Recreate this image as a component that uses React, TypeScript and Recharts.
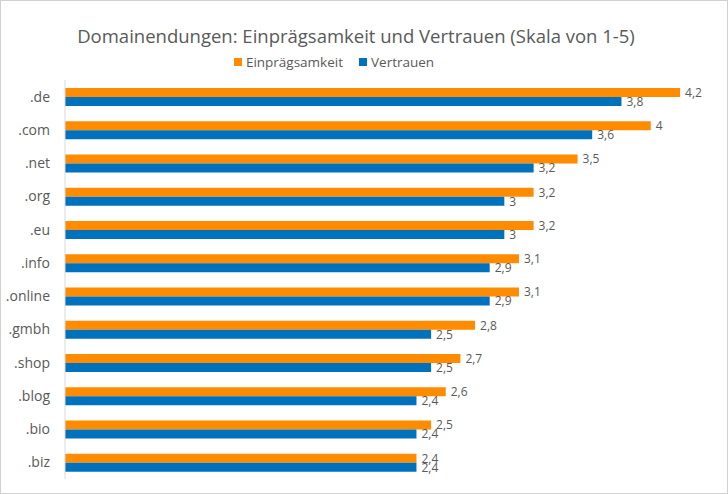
import { Bar, BarChart, LabelList, XAxis, YAxis } from 'recharts'

const domains = ['.de', '.com', '.net', '.org', '.eu', '.info', '.online', '.gmbh', '.shop', '.blog', '.bio', '.biz']
const einpraegsamkeit = [4.2, 4, 3.5, 3.2, 3.2, 3.1, 3.1, 2.8, 2.7, 2.6, 2.5, 2.4]
const vertrauen = [3.8, 3.6, 3.2, 3, 3, 2.9, 2.9, 2.5, 2.5, 2.4, 2.4, 2.4]

const palette = {
  orange: '#ff8c00',
  blue: '#0071bc',
  text: '#595959',
  axis: '#d9d9d9',
  frame: '#d0d0d0',
}

const font = '"Open Sans", sans-serif'

const chartData = domains.map((domain, i) => ({
  domain,
  einpraegsamkeit: einpraegsamkeit[i],
  vertrauen: vertrauen[i],
}))

const formatValue = (value: unknown) => String(value).replace('.', ',')

export default function App() {
  return (
    <>
      <style>{'body { margin: 0; }'}</style>
      <div
        style={{
          position: 'relative',
          width: 728,
          height: 494,
          boxSizing: 'border-box',
          border: `1px solid ${palette.frame}`,
          background: '#fff',
          fontFamily: font,
          overflow: 'hidden',
        }}
      >
        <div
          style={{
            position: 'absolute',
            top: 22,
            left: 0,
            width: 710,
            textAlign: 'center',
            fontSize: 18.5,
            color: palette.text,
          }}
        >
          Domainendungen: Einprägsamkeit und Vertrauen (Skala von 1-5)
        </div>
        <div
          style={{
            position: 'absolute',
            top: 52,
            left: 0,
            width: 666,
            display: 'flex',
            justifyContent: 'center',
            gap: 16,
            fontSize: 13.5,
            color: palette.text,
          }}
        >
          {[
            { name: 'Einprägsamkeit', color: palette.orange },
            { name: 'Vertrauen', color: palette.blue },
          ].map((item) => (
            <span key={item.name} style={{ display: 'flex', alignItems: 'center', gap: 4 }}>
              <span style={{ width: 8, height: 8, background: item.color, display: 'inline-block' }} />
              {item.name}
            </span>
          ))}
        </div>
        <div style={{ position: 'absolute', top: -1, left: -1 }}>
          <BarChart
            width={728}
            height={494}
            data={chartData}
            layout="vertical"
            barGap={0}
            barSize={9}
            margin={{ top: 80, right: 4, bottom: 15, left: 0 }}
          >
            <XAxis type="number" domain={[0, 4.5]} hide />
            <YAxis
              type="category"
              dataKey="domain"
              width={65}
              axisLine={{ stroke: palette.axis }}
              tickLine={false}
              tickMargin={9}
              tick={{ fill: palette.text, fontSize: 14, fontFamily: font }}
            />
            <Bar dataKey="einpraegsamkeit" fill={palette.orange} isAnimationActive={false}>
              <LabelList
                dataKey="einpraegsamkeit"
                position="right"
                offset={5}
                formatter={formatValue}
                style={{ fill: palette.text, fontSize: 12, fontFamily: font }}
              />
            </Bar>
            <Bar dataKey="vertrauen" fill={palette.blue} isAnimationActive={false}>
              <LabelList
                dataKey="vertrauen"
                position="right"
                offset={5}
                formatter={formatValue}
                style={{ fill: palette.text, fontSize: 12, fontFamily: font }}
              />
            </Bar>
          </BarChart>
        </div>
      </div>
    </>
  )
}
